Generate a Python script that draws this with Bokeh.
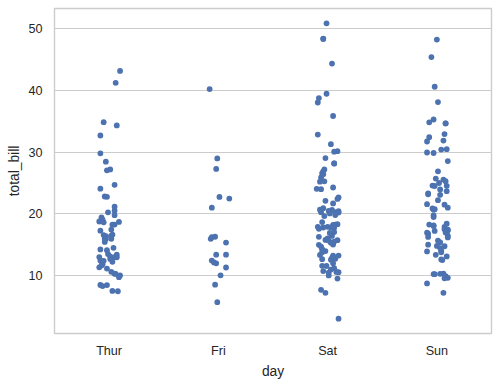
from bokeh.plotting import figure
from bokeh.models import FixedTicker, Range1d, ColumnDataSource
from bokeh.embed import file_html
from bokeh.resources import INLINE

# ---- data ----
categories = ["Thur", "Fri", "Sat", "Sun"]

thur_bill = [43.11, 41.19, 34.83, 34.30, 32.68, 29.80, 28.44, 27.20, 27.05, 24.71,
             24.08, 22.82, 22.76, 21.16, 20.53, 20.27, 19.81, 19.44, 19.08, 18.78,
             18.71, 18.64, 18.28, 18.26, 17.47, 17.29, 16.66, 16.58, 16.47, 16.43,
             16.40, 16.00, 15.98, 15.95, 15.48, 14.52, 14.26, 14.15, 13.51, 13.42,
             13.16, 13.03, 13.00, 13.00, 12.74, 12.48, 12.43, 12.26, 11.87, 11.69,
             11.38, 11.17, 10.65, 10.34, 10.33, 10.07, 9.78, 8.52, 8.51, 8.35,
             7.56, 7.51]
thur_jitter = [0.10, 0.06, -0.05, 0.07, -0.08, -0.08, -0.03, 0.01, -0.02, 0.05,
               -0.08, -0.04, -0.02, 0.05, 0.05, -0.01, 0.05, -0.07, -0.06, -0.09,
               0.09, -0.05, 0.05, 0.03, 0.02, -0.08, 0.03, -0.05, 0.02, -0.03,
               0.02, -0.04, 0.02, -0.03, -0.04, 0.04, -0.08, -0.02, -0.01, 0.07,
               0.01, -0.09, 0.05, 0.07, 0.01, -0.08, -0.05, 0.03, -0.06, -0.07,
               -0.09, -0.02, 0.02, 0.05, 0.06, 0.10, 0.09, -0.08, -0.02, -0.06,
               0.03, 0.08]

fri_bill = [40.17, 28.97, 27.28, 22.75, 22.49, 21.01, 16.32, 16.27, 15.98, 15.38,
            13.42, 13.42, 12.46, 12.16, 12.03, 11.35, 10.09, 8.58, 5.75]
fri_jitter = [-0.08, -0.01, -0.02, 0.01, 0.10, -0.06, -0.03, -0.06, -0.07, 0.07,
              -0.02, 0.07, -0.06, -0.04, -0.02, 0.07, 0.02, -0.03, -0.01]

sat_bill = [50.81, 48.33, 48.27, 44.30, 39.42, 38.73, 38.01, 35.83, 32.83, 31.27,
            30.14, 30.06, 29.03, 28.17, 28.15, 27.18, 26.86, 26.59, 26.41, 25.89,
            25.28, 25.21, 24.27, 24.06, 24.01, 22.67, 22.42, 22.12, 21.70, 20.92,
            20.69, 20.65, 20.49, 20.45, 20.29, 20.29, 20.23, 20.08, 19.82, 19.65,
            18.69, 18.35, 18.29, 18.24, 17.92, 17.92, 17.82, 17.81, 17.78, 17.59,
            17.07, 16.93, 16.45, 16.31, 16.04, 15.81, 15.77, 15.69, 15.53, 15.36,
            15.06, 15.01, 14.73, 14.31, 14.00, 13.81, 13.37, 13.28, 13.27, 12.90,
            12.76, 12.69, 12.60, 12.02, 11.61, 11.59, 11.24, 11.02, 10.77, 10.63,
            10.59, 10.51, 10.07, 9.55, 7.74, 7.25, 3.07]
sat_jitter = [-0.01, -0.04, -0.04, 0.04, -0.01, -0.08, -0.09, 0.05, -0.09, 0.03,
              0.09, 0.06, -0.02, 0.06, 0.06, -0.03, -0.04, -0.05, -0.04, -0.06,
              -0.03, -0.07, 0.05, -0.10, -0.06, 0.10, 0.09, -0.02, 0.05, -0.04,
              -0.07, 0.04, 0.01, 0.10, 0.07, -0.06, 0.10, 0.02, 0.07, -0.03,
              -0.05, 0.09, 0.07, 0.05, -0.09, 0.00, 0.03, -0.04, 0.06, -0.08,
              0.06, 0.02, 0.04, -0.08, 0.00, -0.02, 0.09, 0.01, 0.06, 0.03,
              0.05, -0.08, -0.06, -0.05, -0.02, -0.05, -0.07, 0.10, 0.05, 0.04,
              0.07, -0.05, 0.03, 0.05, -0.05, -0.01, 0.06, 0.03, -0.04, 0.08,
              0.10, 0.01, 0.01, 0.09, -0.06, -0.02, 0.10]

sun_bill = [48.17, 45.35, 40.55, 38.07, 35.26, 34.81, 34.65, 34.63, 32.90, 32.40,
            31.85, 31.71, 30.46, 30.40, 29.93, 29.85, 28.55, 26.88, 25.71, 25.56,
            25.29, 25.00, 24.59, 24.55, 24.52, 23.95, 23.68, 23.33, 23.17, 23.10,
            22.23, 21.58, 21.50, 21.01, 20.90, 20.76, 20.69, 19.77, 19.49, 18.43,
            18.29, 18.15, 18.04, 17.89, 17.51, 17.46, 17.31, 17.26, 16.99, 16.97,
            16.82, 16.49, 16.29, 16.21, 15.69, 15.42, 15.04, 14.83, 14.78, 14.48,
            14.07, 13.94, 13.81, 13.39, 13.13, 12.66, 12.54, 10.34, 10.33, 10.29,
            10.27, 9.94, 9.68, 9.60, 8.77, 7.25]
sun_jitter = [0.00, -0.05, -0.02, 0.01, -0.03, -0.07, 0.08, 0.08, 0.07, -0.07,
              0.06, -0.09, 0.09, 0.04, -0.09, -0.03, 0.10, 0.01, -0.01, 0.06,
              0.08, 0.02, -0.04, 0.09, -0.02, 0.03, 0.09, -0.08, -0.08, 0.03,
              0.01, -0.09, 0.07, 0.10, -0.04, -0.02, -0.03, -0.03, -0.03, 0.09,
              -0.07, -0.03, -0.03, 0.07, 0.07, 0.10, 0.10, -0.02, 0.08, -0.09,
              -0.08, 0.10, -0.08, 0.10, 0.01, 0.03, -0.08, 0.00, 0.07, 0.03,
              0.04, -0.09, 0.04, -0.01, 0.09, 0.04, 0.05, 0.06, 0.03, -0.03,
              -0.02, 0.08, 0.10, 0.07, -0.09, 0.06]

y_ticks = [10, 20, 30, 40, 50]

# ---- build source ----
xs, ys = [], []
for i, (bills, jit) in enumerate([(thur_bill, thur_jitter), (fri_bill, fri_jitter),
                                  (sat_bill, sat_jitter), (sun_bill, sun_jitter)]):
    for b, j in zip(bills, jit):
        xs.append(i + j)
        ys.append(b)
src = ColumnDataSource(dict(x=xs, y=ys))

all_bills = thur_bill + fri_bill + sat_bill + sun_bill
lo, hi = min(all_bills), max(all_bills)
pad = 0.05 * (hi - lo)

FONT = "Liberation Sans"
TXT = "#262626"

p = figure(width=499, height=385, output_backend="svg", toolbar_location=None,
           x_range=Range1d(-0.5, len(categories) - 0.5),
           y_range=Range1d(lo - pad, hi + pad),
           min_border_left=54, min_border_right=8, min_border_top=8, min_border_bottom=52)

p.scatter("x", "y", source=src, size=5.8, fill_color="#4c72b0", line_color=None)

p.background_fill_color = "white"
p.border_fill_color = "white"
p.outline_line_color = "#cccccc"
p.outline_line_width = 1.4

p.xgrid.visible = False
p.ygrid.grid_line_color = "#cccccc"
p.ygrid.grid_line_width = 1

p.xaxis.ticker = FixedTicker(ticks=list(range(len(categories))))
p.xaxis.major_label_overrides = {i: c for i, c in enumerate(categories)}
p.yaxis.ticker = FixedTicker(ticks=y_ticks)
p.xaxis.axis_label = "day"
p.yaxis.axis_label = "total_bill"

for ax in (p.xaxis[0], p.yaxis[0]):
    ax.axis_line_color = None
    ax.major_tick_line_color = None
    ax.minor_tick_line_color = None
    ax.major_tick_out = 0
    ax.major_tick_in = 0
    ax.major_label_text_font = FONT
    ax.major_label_text_font_size = "12.6px"
    ax.major_label_text_color = TXT
    ax.axis_label_text_font = FONT
    ax.axis_label_text_font_size = "13.8px"
    ax.axis_label_text_font_style = "normal"
    ax.axis_label_text_color = TXT

p.xaxis.major_label_standoff = 10
p.xaxis.axis_label_standoff = 3
p.yaxis.major_label_standoff = 12
p.yaxis.axis_label_standoff = 3

open("out.html", "w").write(file_html(p, INLINE))
